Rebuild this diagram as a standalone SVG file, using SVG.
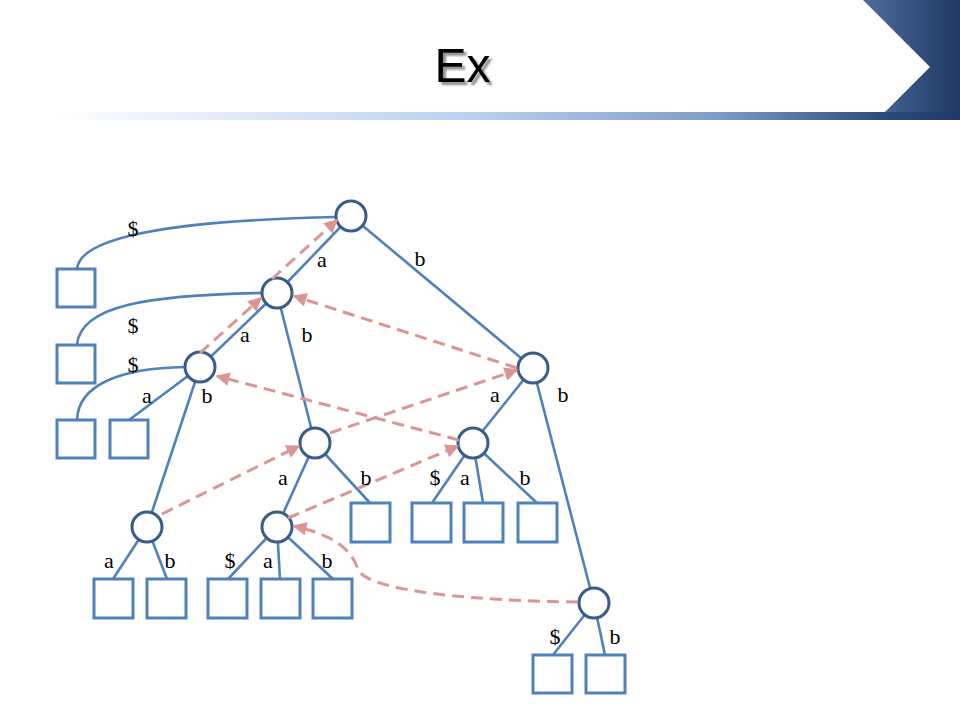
<svg xmlns="http://www.w3.org/2000/svg" width="960" height="720" viewBox="0 0 960 720">
<defs>
<linearGradient id="bar" x1="0" y1="0" x2="960" y2="0" gradientUnits="userSpaceOnUse">
<stop offset="0.05" stop-color="#ffffff"/>
<stop offset="0.5" stop-color="#b8cfee"/>
<stop offset="0.75" stop-color="#7d9bc5"/>
<stop offset="0.92" stop-color="#2d4b78"/>
<stop offset="1" stop-color="#1f3864"/>
</linearGradient>
<linearGradient id="chev" x1="863" y1="0" x2="960" y2="0" gradientUnits="userSpaceOnUse">
<stop offset="0" stop-color="#4e6e9a"/>
<stop offset="1" stop-color="#1f3864"/>
</linearGradient>
<filter id="shadow" x="-20%" y="-20%" width="150%" height="150%">
<feGaussianBlur in="SourceAlpha" stdDeviation="1.2" result="b"/>
<feOffset in="b" dx="2.5" dy="2.5" result="o"/>
<feComponentTransfer in="o" result="s"><feFuncA type="linear" slope="0.45"/></feComponentTransfer>
<feMerge><feMergeNode in="s"/><feMergeNode in="SourceGraphic"/></feMerge>
</filter>
<marker id="arr" viewBox="0 0 10 10" refX="9" refY="5" markerWidth="5.2" markerHeight="4.6" orient="auto">
<path d="M0,0 L10,5 L0,10 z" fill="#d99694"/>
</marker>
<style>
.edge{stroke:#4f81bd;stroke-width:2.6;fill:none}
.node circle{fill:#ffffff;stroke:#385d8a;stroke-width:3}
.node rect{fill:#ffffff;stroke:#4f81bd;stroke-width:3}
.link{stroke:#d99694;stroke-width:3;fill:none;stroke-dasharray:12 7;marker-end:url(#arr)}
.lbl{font-family:"Liberation Serif","DejaVu Serif",serif;font-size:22px;fill:#000000;text-anchor:middle}
.title{font-family:"Liberation Sans",Arial,sans-serif;font-size:48px;text-anchor:middle}
</style>
</defs>
<rect x="0" y="0" width="960" height="720" fill="#ffffff"/>
<g id="header">
<rect x="0" y="112" width="960" height="8" fill="url(#bar)"/>
<polygon points="863,0 960,0 960,112 885,112 930,67" fill="url(#chev)"/>
<text class="title" x="462.5" y="82" fill="#000000" filter="url(#shadow)">Ex</text>
</g>
<g id="connectors">
<path class="edge" d="M337,217 C200,220 80,232 77,269"/>
<path class="edge" d="M262,293 C150,295 80,305 77,345"/>
<path class="edge" d="M185,367 C120,368 78,385 77,420"/>
<line class="edge" x1="351" y1="216" x2="277" y2="293"/>
<line class="edge" x1="351" y1="216" x2="533" y2="368"/>
<line class="edge" x1="277" y1="293" x2="200" y2="367"/>
<line class="edge" x1="277" y1="293" x2="315" y2="443"/>
<line class="edge" x1="200" y1="367" x2="129" y2="420"/>
<line class="edge" x1="200" y1="367" x2="147" y2="527"/>
<line class="edge" x1="315" y1="443" x2="277" y2="527"/>
<line class="edge" x1="315" y1="443" x2="370" y2="503"/>
<line class="edge" x1="533" y1="368" x2="473" y2="443"/>
<line class="edge" x1="533" y1="368" x2="594" y2="603"/>
<line class="edge" x1="473" y1="443" x2="432" y2="503"/>
<line class="edge" x1="473" y1="443" x2="483" y2="503"/>
<line class="edge" x1="473" y1="443" x2="537" y2="503"/>
<line class="edge" x1="277" y1="527" x2="228" y2="579"/>
<line class="edge" x1="277" y1="527" x2="280" y2="579"/>
<line class="edge" x1="277" y1="527" x2="333" y2="579"/>
<line class="edge" x1="147" y1="527" x2="113" y2="579"/>
<line class="edge" x1="147" y1="527" x2="167" y2="579"/>
<line class="edge" x1="594" y1="603" x2="553" y2="655"/>
<line class="edge" x1="594" y1="603" x2="605" y2="655"/>
</g>
<g id="nodes">
<g id="root" class="node"><circle cx="351" cy="216" r="15"/></g>
<g id="n_a" class="node"><circle cx="277" cy="293" r="15"/></g>
<g id="n_aa" class="node"><circle cx="200" cy="367" r="15"/></g>
<g id="n_ab" class="node"><circle cx="315" cy="443" r="15"/></g>
<g id="n_b" class="node"><circle cx="533" cy="368" r="15"/></g>
<g id="n_ba" class="node"><circle cx="473" cy="443" r="15"/></g>
<g id="n_aba" class="node"><circle cx="277" cy="527" r="15"/></g>
<g id="n_aab" class="node"><circle cx="147" cy="527" r="15"/></g>
<g id="n_bb" class="node"><circle cx="594" cy="603" r="15"/></g>
<g id="leaf1" class="node"><rect x="57" y="269" width="38" height="38"/></g>
<g id="leaf2" class="node"><rect x="57" y="345" width="38" height="38"/></g>
<g id="leaf3" class="node"><rect x="57" y="420" width="38" height="38"/></g>
<g id="leaf4" class="node"><rect x="110" y="420" width="38" height="38"/></g>
<g id="leaf5" class="node"><rect x="94" y="579" width="39" height="39"/></g>
<g id="leaf6" class="node"><rect x="147" y="579" width="39" height="39"/></g>
<g id="leaf7" class="node"><rect x="208" y="579" width="39" height="39"/></g>
<g id="leaf8" class="node"><rect x="261" y="579" width="39" height="39"/></g>
<g id="leaf9" class="node"><rect x="313" y="579" width="39" height="39"/></g>
<g id="leaf10" class="node"><rect x="351" y="503" width="39" height="39"/></g>
<g id="leaf11" class="node"><rect x="412" y="503" width="39" height="39"/></g>
<g id="leaf12" class="node"><rect x="464" y="503" width="39" height="39"/></g>
<g id="leaf13" class="node"><rect x="518" y="503" width="39" height="39"/></g>
<g id="leaf14" class="node"><rect x="533" y="655" width="39" height="38"/></g>
<g id="leaf15" class="node"><rect x="586" y="655" width="39" height="38"/></g>
</g>
<g id="suffix-links">
<line class="link" x1="272" y1="279" x2="337" y2="220"/>
<line class="link" x1="200" y1="353" x2="261" y2="298"/>
<line class="link" x1="517" y1="368" x2="294" y2="296"/>
<line class="link" x1="459" y1="440" x2="217" y2="376"/>
<line class="link" x1="162" y1="514" x2="299" y2="446"/>
<line class="link" x1="330" y1="433" x2="517" y2="370"/>
<line class="link" x1="288" y1="518" x2="458" y2="446"/>
<path class="link" d="M578,602 C480,601 370,592 358,570 C352,548 330,534 294,526"/>
</g>
<g id="labels">
<text class="lbl" x="133" y="236">$</text>
<text class="lbl" x="322" y="267">a</text>
<text class="lbl" x="420" y="266">b</text>
<text class="lbl" x="133" y="333">$</text>
<text class="lbl" x="245" y="342">a</text>
<text class="lbl" x="307" y="342">b</text>
<text class="lbl" x="133" y="372">$</text>
<text class="lbl" x="147" y="403">a</text>
<text class="lbl" x="207" y="403">b</text>
<text class="lbl" x="495" y="402">a</text>
<text class="lbl" x="563" y="402">b</text>
<text class="lbl" x="283" y="485">a</text>
<text class="lbl" x="366" y="485">b</text>
<text class="lbl" x="435" y="485">$</text>
<text class="lbl" x="465" y="485">a</text>
<text class="lbl" x="525" y="485">b</text>
<text class="lbl" x="109" y="568">a</text>
<text class="lbl" x="170" y="568">b</text>
<text class="lbl" x="230" y="568">$</text>
<text class="lbl" x="268" y="568">a</text>
<text class="lbl" x="327" y="568">b</text>
<text class="lbl" x="555" y="644">$</text>
<text class="lbl" x="615" y="644">b</text>
</g>
</svg>
